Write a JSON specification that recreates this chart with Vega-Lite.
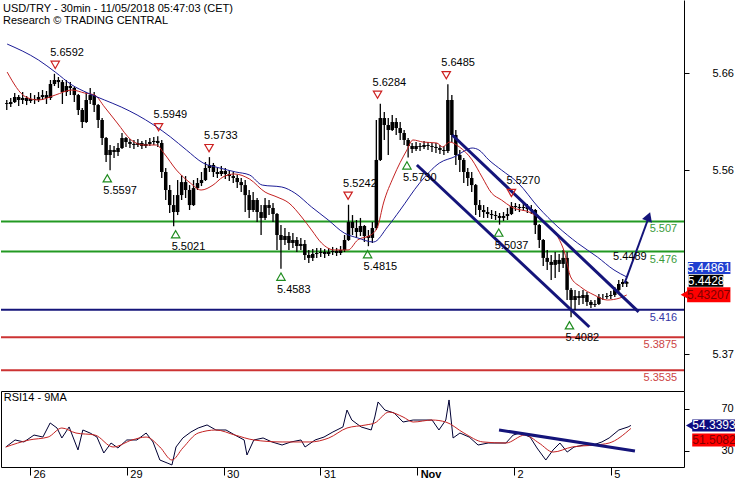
{
"$schema": "https://vega.github.io/schema/vega-lite/v6.json",
"padding": 0,
"spacing": 0,
"bounds": "flush",
"background": "white",
"config": {"view": {"stroke": null}, "font": "Liberation Sans", "text": {"font": "Liberation Sans"}},
"title": {"text": ["USD/TRY - 30min - 11/05/2018 05:47:03 (CET)", "Research © TRADING CENTRAL"], "anchor": "start", "orient": "top", "offset": -26, "dx": 3, "fontSize": 11, "fontWeight": "normal", "font": "Liberation Sans", "lineHeight": 12, "color": "#000"},
"datasets": {
"bars": [
{"h":-7,"o":5.629,"hi":5.6322,"l":5.6219,"c":5.6281},
{"h":-6,"o":5.6281,"hi":5.6343,"l":5.625,"c":5.6301},
{"h":-5,"o":5.6301,"hi":5.6394,"l":5.6291,"c":5.6353},
{"h":-4,"o":5.6353,"hi":5.6373,"l":5.626,"c":5.6322},
{"h":-3,"o":5.6322,"hi":5.6404,"l":5.6281,"c":5.6343},
{"h":-2,"o":5.6343,"hi":5.6363,"l":5.627,"c":5.6312},
{"h":-1,"o":5.6312,"hi":5.6394,"l":5.6291,"c":5.6332},
{"h":0,"o":5.6332,"hi":5.6373,"l":5.6281,"c":5.6322},
{"h":1,"o":5.6322,"hi":5.6404,"l":5.6301,"c":5.6353},
{"h":2,"o":5.6353,"hi":5.6425,"l":5.6322,"c":5.6373},
{"h":3,"o":5.6373,"hi":5.6415,"l":5.6281,"c":5.6343},
{"h":4,"o":5.6343,"hi":5.6528,"l":5.6322,"c":5.6487},
{"h":5,"o":5.6487,"hi":5.6592,"l":5.6466,"c":5.6528},
{"h":6,"o":5.6528,"hi":5.6559,"l":5.6446,"c":5.6507},
{"h":7,"o":5.6507,"hi":5.6528,"l":5.6281,"c":5.6404},
{"h":8,"o":5.6404,"hi":5.6528,"l":5.6363,"c":5.6466},
{"h":9,"o":5.6466,"hi":5.6507,"l":5.6373,"c":5.6446},
{"h":10,"o":5.6446,"hi":5.6456,"l":5.6301,"c":5.6373},
{"h":11,"o":5.6373,"hi":5.6383,"l":5.6168,"c":5.6219},
{"h":12,"o":5.6219,"hi":5.624,"l":5.6033,"c":5.6095},
{"h":13,"o":5.6095,"hi":5.6404,"l":5.6085,"c":5.6322},
{"h":14,"o":5.6322,"hi":5.6446,"l":5.6281,"c":5.6373},
{"h":15,"o":5.6373,"hi":5.6404,"l":5.6198,"c":5.627},
{"h":16,"o":5.627,"hi":5.628,"l":5.6033,"c":5.6116},
{"h":17,"o":5.6116,"hi":5.6136,"l":5.5858,"c":5.593},
{"h":18,"o":5.593,"hi":5.594,"l":5.5683,"c":5.5755},
{"h":19,"o":5.5755,"hi":5.5858,"l":5.5597,"c":5.5807},
{"h":20,"o":5.5807,"hi":5.5848,"l":5.5724,"c":5.5786},
{"h":21,"o":5.5786,"hi":5.5879,"l":5.5745,"c":5.5827},
{"h":22,"o":5.5827,"hi":5.5982,"l":5.5817,"c":5.593},
{"h":23,"o":5.593,"hi":5.5941,"l":5.5838,"c":5.5889},
{"h":24,"o":5.5889,"hi":5.592,"l":5.5827,"c":5.5869},
{"h":25,"o":5.5869,"hi":5.591,"l":5.5817,"c":5.5858},
{"h":26,"o":5.5858,"hi":5.592,"l":5.5838,"c":5.5879},
{"h":27,"o":5.5879,"hi":5.59,"l":5.5817,"c":5.5848},
{"h":28,"o":5.5848,"hi":5.591,"l":5.5827,"c":5.5869},
{"h":29,"o":5.5869,"hi":5.593,"l":5.5848,"c":5.5889},
{"h":30,"o":5.5889,"hi":5.5941,"l":5.5858,"c":5.59},
{"h":31,"o":5.59,"hi":5.5949,"l":5.5838,"c":5.5879},
{"h":32,"o":5.5879,"hi":5.591,"l":5.5518,"c":5.558},
{"h":33,"o":5.558,"hi":5.5621,"l":5.5291,"c":5.5394},
{"h":34,"o":5.5394,"hi":5.5445,"l":5.5157,"c":5.5239},
{"h":35,"o":5.5239,"hi":5.5342,"l":5.5021,"c":5.5167},
{"h":36,"o":5.5167,"hi":5.5497,"l":5.5136,"c":5.5342},
{"h":37,"o":5.5342,"hi":5.5548,"l":5.5291,"c":5.5476},
{"h":38,"o":5.5476,"hi":5.5538,"l":5.5312,"c":5.5394},
{"h":39,"o":5.5394,"hi":5.5445,"l":5.5188,"c":5.5239},
{"h":40,"o":5.5239,"hi":5.5497,"l":5.5229,"c":5.5414},
{"h":41,"o":5.5414,"hi":5.5518,"l":5.5394,"c":5.5466},
{"h":42,"o":5.5466,"hi":5.558,"l":5.5435,"c":5.5497},
{"h":43,"o":5.5497,"hi":5.5683,"l":5.5487,"c":5.5621},
{"h":44,"o":5.5621,"hi":5.5733,"l":5.558,"c":5.5652},
{"h":45,"o":5.5652,"hi":5.5673,"l":5.5528,"c":5.558},
{"h":46,"o":5.558,"hi":5.5621,"l":5.5518,"c":5.5559},
{"h":47,"o":5.5559,"hi":5.5642,"l":5.5538,"c":5.559},
{"h":48,"o":5.559,"hi":5.5621,"l":5.5507,"c":5.5559},
{"h":49,"o":5.5559,"hi":5.56,"l":5.5487,"c":5.5538},
{"h":50,"o":5.5538,"hi":5.558,"l":5.5466,"c":5.5518},
{"h":51,"o":5.5518,"hi":5.5548,"l":5.5414,"c":5.5476},
{"h":52,"o":5.5476,"hi":5.5518,"l":5.5373,"c":5.5445},
{"h":53,"o":5.5445,"hi":5.5497,"l":5.5167,"c":5.5342},
{"h":54,"o":5.5342,"hi":5.5394,"l":5.5106,"c":5.5188},
{"h":55,"o":5.5188,"hi":5.5373,"l":5.5167,"c":5.5291},
{"h":56,"o":5.5291,"hi":5.5312,"l":5.5064,"c":5.5167},
{"h":57,"o":5.5167,"hi":5.5239,"l":5.493,"c":5.5106},
{"h":58,"o":5.5106,"hi":5.5312,"l":5.5085,"c":5.5239},
{"h":59,"o":5.5239,"hi":5.5291,"l":5.5136,"c":5.5209},
{"h":60,"o":5.5209,"hi":5.526,"l":5.5064,"c":5.5147},
{"h":61,"o":5.5147,"hi":5.5157,"l":5.4776,"c":5.493},
{"h":62,"o":5.493,"hi":5.5033,"l":5.4583,"c":5.4879},
{"h":63,"o":5.4879,"hi":5.5002,"l":5.4827,"c":5.492},
{"h":64,"o":5.492,"hi":5.4961,"l":5.4776,"c":5.4848},
{"h":65,"o":5.4848,"hi":5.4951,"l":5.4797,"c":5.4879},
{"h":66,"o":5.4879,"hi":5.491,"l":5.4755,"c":5.4817},
{"h":67,"o":5.4817,"hi":5.49,"l":5.4776,"c":5.4838},
{"h":68,"o":5.4838,"hi":5.4879,"l":5.4673,"c":5.4724},
{"h":69,"o":5.4724,"hi":5.4776,"l":5.4642,"c":5.4694},
{"h":70,"o":5.4694,"hi":5.4786,"l":5.4663,"c":5.4735},
{"h":71,"o":5.4735,"hi":5.4797,"l":5.4694,"c":5.4745},
{"h":72,"o":5.4745,"hi":5.4797,"l":5.4704,"c":5.4755},
{"h":73,"o":5.4755,"hi":5.4786,"l":5.4694,"c":5.4735},
{"h":74,"o":5.4735,"hi":5.4797,"l":5.4714,"c":5.4755},
{"h":75,"o":5.4755,"hi":5.4807,"l":5.4724,"c":5.4766},
{"h":76,"o":5.4766,"hi":5.4797,"l":5.4714,"c":5.4745},
{"h":77,"o":5.4745,"hi":5.4817,"l":5.4724,"c":5.4776},
{"h":78,"o":5.4776,"hi":5.493,"l":5.4755,"c":5.4879},
{"h":79,"o":5.4879,"hi":5.5242,"l":5.4869,"c":5.5064},
{"h":80,"o":5.5064,"hi":5.5136,"l":5.493,"c":5.5002},
{"h":81,"o":5.5002,"hi":5.5085,"l":5.49,"c":5.4961},
{"h":82,"o":5.4961,"hi":5.5106,"l":5.492,"c":5.5023},
{"h":83,"o":5.5023,"hi":5.5033,"l":5.4858,"c":5.492},
{"h":84,"o":5.492,"hi":5.4982,"l":5.4815,"c":5.49},
{"h":85,"o":5.49,"hi":5.5064,"l":5.4848,"c":5.5002},
{"h":86,"o":5.5002,"hi":5.6116,"l":5.4982,"c":5.5704},
{"h":87,"o":5.5704,"hi":5.6284,"l":5.5694,"c":5.6136},
{"h":88,"o":5.6136,"hi":5.6198,"l":5.591,"c":5.6064},
{"h":89,"o":5.6064,"hi":5.6136,"l":5.5755,"c":5.6013},
{"h":90,"o":5.6013,"hi":5.6168,"l":5.6002,"c":5.6095},
{"h":91,"o":5.6095,"hi":5.6136,"l":5.5961,"c":5.6033},
{"h":92,"o":5.6033,"hi":5.6095,"l":5.591,"c":5.5982},
{"h":93,"o":5.5982,"hi":5.6013,"l":5.5858,"c":5.591},
{"h":94,"o":5.591,"hi":5.593,"l":5.573,"c":5.5848},
{"h":95,"o":5.5848,"hi":5.5879,"l":5.5776,"c":5.5817},
{"h":96,"o":5.5817,"hi":5.5889,"l":5.5796,"c":5.5848},
{"h":97,"o":5.5848,"hi":5.5879,"l":5.5796,"c":5.5838},
{"h":98,"o":5.5838,"hi":5.59,"l":5.5817,"c":5.5858},
{"h":99,"o":5.5858,"hi":5.5889,"l":5.5807,"c":5.5848},
{"h":100,"o":5.5848,"hi":5.5879,"l":5.5786,"c":5.5838},
{"h":101,"o":5.5838,"hi":5.5879,"l":5.5776,"c":5.5827},
{"h":102,"o":5.5827,"hi":5.5858,"l":5.5766,"c":5.5807},
{"h":103,"o":5.5807,"hi":5.5848,"l":5.5755,"c":5.5796},
{"h":104,"o":5.5796,"hi":5.6485,"l":5.5776,"c":5.6322},
{"h":105,"o":5.6322,"hi":5.6373,"l":5.5889,"c":5.5961},
{"h":106,"o":5.5961,"hi":5.6013,"l":5.5652,"c":5.5755},
{"h":107,"o":5.5755,"hi":5.5807,"l":5.558,"c":5.5704},
{"h":108,"o":5.5704,"hi":5.5724,"l":5.5466,"c":5.558},
{"h":109,"o":5.558,"hi":5.5621,"l":5.5435,"c":5.5518},
{"h":110,"o":5.5518,"hi":5.558,"l":5.5373,"c":5.5445},
{"h":111,"o":5.5445,"hi":5.5455,"l":5.5136,"c":5.5239},
{"h":112,"o":5.5239,"hi":5.5291,"l":5.5116,"c":5.5188},
{"h":113,"o":5.5188,"hi":5.5239,"l":5.5106,"c":5.5167},
{"h":114,"o":5.5167,"hi":5.5219,"l":5.5106,"c":5.5147},
{"h":115,"o":5.5147,"hi":5.5188,"l":5.5095,"c":5.5136},
{"h":116,"o":5.5136,"hi":5.5178,"l":5.5085,"c":5.5126},
{"h":117,"o":5.5126,"hi":5.5157,"l":5.5037,"c":5.5106},
{"h":118,"o":5.5106,"hi":5.5167,"l":5.5075,"c":5.5126},
{"h":119,"o":5.5126,"hi":5.5209,"l":5.5085,"c":5.5147},
{"h":120,"o":5.5147,"hi":5.527,"l":5.5136,"c":5.5229},
{"h":121,"o":5.5229,"hi":5.526,"l":5.5178,"c":5.5219},
{"h":122,"o":5.5219,"hi":5.525,"l":5.5167,"c":5.5209},
{"h":123,"o":5.5209,"hi":5.526,"l":5.5178,"c":5.5219},
{"h":124,"o":5.5219,"hi":5.525,"l":5.5157,"c":5.5198},
{"h":125,"o":5.5198,"hi":5.5239,"l":5.5147,"c":5.5188},
{"h":126,"o":5.5188,"hi":5.5198,"l":5.4941,"c":5.5033},
{"h":127,"o":5.5033,"hi":5.5043,"l":5.4797,"c":5.4879},
{"h":128,"o":5.4879,"hi":5.4889,"l":5.4611,"c":5.4694},
{"h":129,"o":5.4694,"hi":5.4776,"l":5.457,"c":5.4653},
{"h":130,"o":5.4653,"hi":5.4724,"l":5.4467,"c":5.4622},
{"h":131,"o":5.4622,"hi":5.4755,"l":5.4487,"c":5.4673},
{"h":132,"o":5.4673,"hi":5.4735,"l":5.455,"c":5.4632},
{"h":133,"o":5.4632,"hi":5.4776,"l":5.4591,"c":5.4694},
{"h":134,"o":5.4694,"hi":5.4755,"l":5.426,"c":5.4364},
{"h":135,"o":5.4364,"hi":5.4384,"l":5.4082,"c":5.426},
{"h":136,"o":5.426,"hi":5.4364,"l":5.4157,"c":5.4301},
{"h":137,"o":5.4301,"hi":5.4353,"l":5.4209,"c":5.4281},
{"h":138,"o":5.4281,"hi":5.4364,"l":5.4219,"c":5.4312},
{"h":139,"o":5.4312,"hi":5.4343,"l":5.4198,"c":5.424},
{"h":140,"o":5.424,"hi":5.426,"l":5.4178,"c":5.4209},
{"h":141,"o":5.4209,"hi":5.426,"l":5.4188,"c":5.4219},
{"h":142,"o":5.4219,"hi":5.4322,"l":5.4209,"c":5.4291},
{"h":143,"o":5.4291,"hi":5.4322,"l":5.426,"c":5.4291},
{"h":144,"o":5.4291,"hi":5.4332,"l":5.427,"c":5.4301},
{"h":145,"o":5.4301,"hi":5.4353,"l":5.427,"c":5.4312},
{"h":146,"o":5.4312,"hi":5.4395,"l":5.4291,"c":5.4364},
{"h":147,"o":5.4364,"hi":5.4467,"l":5.4343,"c":5.4425},
{"h":148,"o":5.4425,"hi":5.4477,"l":5.4395,"c":5.4446},
{"h":149,"o":5.4446,"hi":5.4456,"l":5.4395,"c":5.4428}
],
"maRed": [
{"h":-6.9,"v":5.661},{"h":-2.2,"v":5.6353},{"h":1.0,"v":5.6322},{"h":5.2,"v":5.6373},{"h":9.4,"v":5.6425},{"h":12.6,"v":5.6394},{"h":15.1,"v":5.6373},{"h":17.6,"v":5.625},{"h":20.8,"v":5.6085},{"h":24.3,"v":5.591},{"h":27.5,"v":5.5858},{"h":30.7,"v":5.5858},{"h":32.5,"v":5.5776},{"h":35.7,"v":5.56},{"h":39.2,"v":5.5466},{"h":41.9,"v":5.5394},{"h":44.9,"v":5.5445},{"h":47.4,"v":5.5528},{"h":50.3,"v":5.5559},{"h":54.1,"v":5.5507},{"h":58.0,"v":5.5373},{"h":61.0,"v":5.5322},{"h":64.0,"v":5.526},{"h":67.2,"v":5.5116},{"h":69.7,"v":5.4982},{"h":72.2,"v":5.4848},{"h":75.4,"v":5.4776},{"h":78.9,"v":5.4776},{"h":81.3,"v":5.4879},{"h":84.6,"v":5.493},{"h":86.3,"v":5.5013},{"h":87.8,"v":5.526},{"h":90.3,"v":5.5528},{"h":93.7,"v":5.5807},{"h":95.2,"v":5.591},{"h":97.7,"v":5.5889},{"h":101.2,"v":5.5879},{"h":102.7,"v":5.5838},{"h":104.4,"v":5.5889},{"h":106.9,"v":5.5838},{"h":110.1,"v":5.5704},{"h":112.6,"v":5.5528},{"h":115.0,"v":5.5363},{"h":117.5,"v":5.5291},{"h":120.0,"v":5.5219},{"h":125.0,"v":5.5157},{"h":128.4,"v":5.5054},{"h":131.7,"v":5.491},{"h":133.4,"v":5.4745},{"h":134.9,"v":5.4498},{"h":137.4,"v":5.4395},{"h":140.8,"v":5.4312},{"h":144.1,"v":5.426},{"h":147.3,"v":5.4281},{"h":149.0,"v":5.4312}
],
"maBlue": [
{"h":-6.9,"v":5.6899},{"h":1.0,"v":5.6734},{"h":5.2,"v":5.661},{"h":9.4,"v":5.6477},{"h":13.4,"v":5.6394},{"h":17.6,"v":5.6322},{"h":21.8,"v":5.625},{"h":25.8,"v":5.6168},{"h":30.0,"v":5.6064},{"h":34.2,"v":5.5941},{"h":38.2,"v":5.5807},{"h":42.4,"v":5.5673},{"h":46.6,"v":5.5621},{"h":50.6,"v":5.558},{"h":54.1,"v":5.5549},{"h":57.3,"v":5.5445},{"h":62.2,"v":5.5425},{"h":65.5,"v":5.5363},{"h":69.7,"v":5.5219},{"h":73.9,"v":5.5085},{"h":77.9,"v":5.4951},{"h":81.3,"v":5.49},{"h":85.3,"v":5.4858},{"h":88.8,"v":5.5013},{"h":92.0,"v":5.5188},{"h":96.9,"v":5.5466},{"h":101.9,"v":5.5673},{"h":106.1,"v":5.5745},{"h":108.1,"v":5.5796},{"h":110.1,"v":5.5827},{"h":111.8,"v":5.5807},{"h":114.3,"v":5.5704},{"h":117.5,"v":5.56},{"h":121.7,"v":5.5466},{"h":126.7,"v":5.5219},{"h":131.7,"v":5.5013},{"h":136.6,"v":5.4848},{"h":141.6,"v":5.4704},{"h":145.8,"v":5.457},{"h":149.0,"v":5.4498}
],
"highs": [
{"h":5.2,"v":5.6592,"t":"5.6592"},{"h":31.2,"v":5.5949,"t":"5.5949"},{"h":43.9,"v":5.5733,"t":"5.5733"},{"h":78.9,"v":5.5242,"t":"5.5242"},{"h":86.3,"v":5.6284,"t":"5.6284"},{"h":103.6,"v":5.6485,"t":"5.6485"},{"h":120.0,"v":5.527,"t":"5.5270"}
],
"lows": [
{"h":18.3,"v":5.5597,"t":"5.5597"},{"h":35.5,"v":5.5021,"t":"5.5021"},{"h":62.0,"v":5.4583,"t":"5.4583"},{"h":83.8,"v":5.4815,"t":"5.4815"},{"h":93.7,"v":5.573,"t":"5.5730"},{"h":116.8,"v":5.5037,"t":"5.5037"},{"h":134.6,"v":5.4082,"t":"5.4082"}
],
"channel": [
{"line":"upper","h":105.1,"v":5.5961},{"line":"upper","h":152.0,"v":5.4137},
{"line":"lower","h":96.2,"v":5.5652},{"line":"lower","h":139.6,"v":5.3982}
],
"arrow": [{"h":148.5,"v":5.4436},{"h":154.3,"v":5.5085}],
"rsi": [
{"h":-6.0,"v":33.8},{"h":-3.7,"v":40.5},{"h":-1.5,"v":38.6},{"h":1.0,"v":45.2},{"h":3.2,"v":43.3},{"h":5.0,"v":56.7},{"h":6.7,"v":51.9},{"h":7.9,"v":42.4},{"h":9.7,"v":52.9},{"h":11.9,"v":31.0},{"h":13.1,"v":50.0},{"h":14.9,"v":47.1},{"h":16.6,"v":43.3},{"h":18.3,"v":28.1},{"h":20.1,"v":37.6},{"h":21.8,"v":32.9},{"h":24.0,"v":40.5},{"h":26.5,"v":40.5},{"h":28.8,"v":47.1},{"h":30.5,"v":38.6},{"h":32.2,"v":21.4},{"h":34.0,"v":18.6},{"h":35.2,"v":16.7},{"h":36.2,"v":33.8},{"h":37.9,"v":42.4},{"h":39.9,"v":48.1},{"h":41.7,"v":51.9},{"h":43.9,"v":54.8},{"h":46.1,"v":50.0},{"h":48.6,"v":50.0},{"h":50.8,"v":45.2},{"h":53.1,"v":40.5},{"h":53.8,"v":26.2},{"h":55.5,"v":40.5},{"h":57.8,"v":42.4},{"h":60.0,"v":38.6},{"h":62.5,"v":35.7},{"h":64.7,"v":38.6},{"h":67.2,"v":40.5},{"h":68.2,"v":33.8},{"h":70.7,"v":40.5},{"h":72.9,"v":43.3},{"h":75.1,"v":48.1},{"h":77.6,"v":52.9},{"h":78.6,"v":69.0},{"h":79.8,"v":59.5},{"h":82.1,"v":52.9},{"h":84.6,"v":50.0},{"h":85.5,"v":62.4},{"h":86.3,"v":76.7},{"h":88.0,"v":69.0},{"h":90.3,"v":66.2},{"h":92.5,"v":57.6},{"h":95.0,"v":59.5},{"h":97.2,"v":59.5},{"h":99.7,"v":59.5},{"h":101.4,"v":50.0},{"h":103.1,"v":59.5},{"h":103.9,"v":78.6},{"h":104.9,"v":42.4},{"h":106.6,"v":47.1},{"h":108.9,"v":43.3},{"h":111.1,"v":35.7},{"h":113.6,"v":37.6},{"h":115.8,"v":37.6},{"h":118.0,"v":37.6},{"h":119.8,"v":45.2},{"h":121.5,"v":47.1},{"h":124.0,"v":43.3},{"h":125.7,"v":32.9},{"h":127.9,"v":21.4},{"h":129.7,"v":31.0},{"h":131.4,"v":37.6},{"h":133.2,"v":29.0},{"h":134.9,"v":33.8},{"h":137.4,"v":35.7},{"h":139.6,"v":35.7},{"h":141.8,"v":38.6},{"h":143.6,"v":42.4},{"h":146.0,"v":50.0},{"h":148.3,"v":52.9},{"h":149.0,"v":54.34}
],
"rsiMa": [
{"h":-6.0,"v":33.8},{"h":-0.2,"v":40.5},{"h":4.5,"v":43.3},{"h":7.9,"v":51.9},{"h":11.4,"v":47.1},{"h":16.1,"v":45.2},{"h":20.6,"v":33.8},{"h":25.3,"v":40.5},{"h":28.8,"v":43.3},{"h":32.2,"v":33.8},{"h":35.2,"v":21.4},{"h":37.9,"v":32.9},{"h":41.7,"v":47.1},{"h":46.1,"v":50.0},{"h":50.8,"v":45.2},{"h":55.5,"v":40.5},{"h":62.5,"v":38.6},{"h":69.4,"v":38.6},{"h":74.1,"v":42.4},{"h":78.6,"v":51.9},{"h":83.3,"v":54.8},{"h":85.5,"v":56.7},{"h":89.0,"v":67.1},{"h":92.5,"v":62.4},{"h":95.0,"v":57.6},{"h":99.7,"v":59.5},{"h":103.1,"v":57.6},{"h":107.6,"v":47.1},{"h":112.3,"v":38.6},{"h":118.0,"v":37.6},{"h":122.7,"v":45.2},{"h":126.2,"v":37.6},{"h":129.7,"v":29.0},{"h":134.4,"v":33.8},{"h":140.1,"v":35.7},{"h":143.6,"v":37.6},{"h":149.0,"v":51.51}
],
"rsiTrend": [{"h":116.3,"v":50.0},{"h":150.0,"v":30.0}]
},
"vconcat": [
{
"width": 683,
"height": 391,
"layer": [
{"data": {"values": [{"v":5.507},{"v":5.476}]}, "mark": {"type":"rule","color":"#229922","strokeWidth":2},
 "encoding": {"y": {"field":"v","type":"quantitative","scale":{"domain":[5.3322,5.7353],"nice":false,"zero":false},
  "axis":{"orient":"right","values":[5.37,5.56,5.66],"format":".2f","title":null,"grid":false,"tickSize":5,"labelAlign":"left","labelPadding":23,"labelFontSize":11,"labelColor":"#000","tickColor":"#000","domain":true,"domainColor":"#000","labelFont":"Liberation Sans"}}}},
{"data": {"values": [{"v":5.416}]}, "mark": {"type":"rule","color":"#14147a","strokeWidth":2},
 "encoding": {"y": {"field":"v","type":"quantitative"}}},
{"data": {"values": [{"v":5.3875},{"v":5.3535}]}, "mark": {"type":"rule","color":"#cc3333","strokeWidth":2},
 "encoding": {"y": {"field":"v","type":"quantitative"}}},
{"data": {"values": [{"v":5.507,"t":"5.507"},{"v":5.476,"t":"5.476"}]}, "mark": {"type":"text","align":"right","baseline":"middle","dy":8,"fontSize":11,"color":"#3a9a3a"},
 "encoding": {"x": {"datum":161.7,"type":"quantitative","scale":{"domain":[-7.19,162.16],"nice":false,"zero":false},"axis":null}, "y": {"field":"v","type":"quantitative"}, "text": {"field":"t"}}},
{"data": {"values": [{"v":5.416,"t":"5.416"}]}, "mark": {"type":"text","align":"right","baseline":"middle","dy":8,"fontSize":11,"color":"#3434a4"},
 "encoding": {"x": {"datum":161.7,"type":"quantitative","axis":null}, "y": {"field":"v","type":"quantitative"}, "text": {"field":"t"}}},
{"data": {"values": [{"v":5.3875,"t":"5.3875"},{"v":5.3535,"t":"5.3535"}]}, "mark": {"type":"text","align":"right","baseline":"middle","dy":8,"fontSize":11,"color":"#cc4444"},
 "encoding": {"x": {"datum":161.7,"type":"quantitative","axis":null}, "y": {"field":"v","type":"quantitative"}, "text": {"field":"t"}}},
{"data": {"name":"bars"}, "mark": {"type":"rule","color":"#000","strokeWidth":1.3},
 "encoding": {"x": {"field":"h","type":"quantitative","axis":null}, "y": {"field":"l","type":"quantitative"}, "y2": {"field":"hi"}}},
{"data": {"name":"bars"}, "mark": {"type":"bar","color":"#000","size":3.5},
 "encoding": {"x": {"field":"h","type":"quantitative","axis":null}, "y": {"field":"o","type":"quantitative"}, "y2": {"field":"c"}}},
{"data": {"name":"maRed"}, "mark": {"type":"line","color":"#c42222","strokeWidth":1,"interpolate":"monotone"},
 "encoding": {"x": {"field":"h","type":"quantitative","axis":null}, "y": {"field":"v","type":"quantitative"}}},
{"data": {"name":"maBlue"}, "mark": {"type":"line","color":"#1c1c96","strokeWidth":1,"interpolate":"monotone"},
 "encoding": {"x": {"field":"h","type":"quantitative","axis":null}, "y": {"field":"v","type":"quantitative"}}},
{"data": {"name":"channel"}, "mark": {"type":"line","color":"#14147a","strokeWidth":3},
 "encoding": {"x": {"field":"h","type":"quantitative","axis":null}, "y": {"field":"v","type":"quantitative"}, "detail": {"field":"line"}}},
{"data": {"name":"arrow"}, "mark": {"type":"line","color":"#14147a","strokeWidth":2},
 "encoding": {"x": {"field":"h","type":"quantitative","axis":null}, "y": {"field":"v","type":"quantitative"}}},
{"data": {"values": [{"h":154.5,"v":5.512}]}, "mark": {"type":"point","shape":"triangle-up","filled":true,"color":"#14147a","size":110,"angle":20,"opacity":1},
 "encoding": {"x": {"field":"h","type":"quantitative","axis":null}, "y": {"field":"v","type":"quantitative"}}},
{"data": {"values": [{"h":149.8,"v":5.4704,"t":"5.4489"}]}, "mark": {"type":"text","align":"center","baseline":"middle","fontSize":11,"color":"#000"},
 "encoding": {"x": {"field":"h","type":"quantitative","axis":null}, "y": {"field":"v","type":"quantitative"}, "text": {"field":"t"}}},
{"data": {"name":"highs"}, "mark": {"type":"point","shape":"triangle-down","filled":false,"color":"#cc2020","strokeWidth":1.2,"size":70,"yOffset":-9,"opacity":1},
 "encoding": {"x": {"field":"h","type":"quantitative","axis":null}, "y": {"field":"v","type":"quantitative"}}},
{"data": {"name":"highs"}, "mark": {"type":"text","align":"left","baseline":"middle","dx":-5,"dy":-21,"fontSize":11,"color":"#000"},
 "encoding": {"x": {"field":"h","type":"quantitative","axis":null}, "y": {"field":"v","type":"quantitative"}, "text": {"field":"t"}}},
{"data": {"name":"lows"}, "mark": {"type":"point","shape":"triangle-up","filled":false,"color":"#1e8c1e","strokeWidth":1.2,"size":70,"yOffset":8,"opacity":1},
 "encoding": {"x": {"field":"h","type":"quantitative","axis":null}, "y": {"field":"v","type":"quantitative"}}},
{"data": {"name":"lows"}, "mark": {"type":"text","align":"left","baseline":"middle","dx":-4,"dy":21,"fontSize":11,"color":"#000"},
 "encoding": {"x": {"field":"h","type":"quantitative","axis":null}, "y": {"field":"v","type":"quantitative"}, "text": {"field":"t"}}},
{"data": {"values": [{"v":5.44861,"t":"5.44861"}]}, "mark": {"type":"rect","color":"#1f3fd0","yOffset":-16,"y2Offset":-4},
 "encoding": {"x": {"datum":164.4,"type":"quantitative","axis":null}, "x2": {"datum":175.1}, "y": {"field":"v","type":"quantitative"}, "y2": {"field":"v"}}},
{"data": {"values": [{"v":5.44861,"t":"5.44861"}]}, "mark": {"type":"text","align":"center","baseline":"middle","dy":-10,"fontSize":12,"color":"#fff"},
 "encoding": {"x": {"datum":169.7,"type":"quantitative","axis":null}, "y": {"field":"v","type":"quantitative"}, "text": {"field":"t"}}},
{"data": {"values": [{"v":5.4428,"t":"5.4428"}]}, "mark": {"type":"rect","color":"#000","yOffset":-9,"y2Offset":3},
 "encoding": {"x": {"datum":164.6,"type":"quantitative","axis":null}, "x2": {"datum":173.3}, "y": {"field":"v","type":"quantitative"}, "y2": {"field":"v"}}},
{"data": {"values": [{"v":5.4428,"t":"5.4428"}]}, "mark": {"type":"text","align":"center","baseline":"middle","dy":-3,"fontSize":12,"color":"#fff"},
 "encoding": {"x": {"datum":169.0,"type":"quantitative","axis":null}, "y": {"field":"v","type":"quantitative"}, "text": {"field":"t"}}},
{"data": {"values": [{"v":5.43207,"t":"5.43207"}]}, "mark": {"type":"rect","color":"#ff0000","yOffset":-7,"y2Offset":8},
 "encoding": {"x": {"datum":164.2,"type":"quantitative","axis":null}, "x2": {"datum":175.1}, "y": {"field":"v","type":"quantitative"}, "y2": {"field":"v"}}},
{"data": {"values": [{"v":5.43207}]}, "mark": {"type":"point","shape":"triangle-left","filled":true,"color":"#ff0000","size":90,"yOffset":0.5,"opacity":1},
 "encoding": {"x": {"datum":163.6,"type":"quantitative","axis":null}, "y": {"field":"v","type":"quantitative"}}},
{"data": {"values": [{"v":5.43207,"t":"5.43207"}]}, "mark": {"type":"text","align":"center","baseline":"middle","dy":0.5,"fontSize":12,"color":"#800000"},
 "encoding": {"x": {"datum":169.6,"type":"quantitative","axis":null}, "y": {"field":"v","type":"quantitative"}, "text": {"field":"t"}}}
]
},
{
"width": 683,
"height": 76,
"view": {"stroke": "#000", "strokeWidth": 1},
"layer": [
{"data": {"name":"rsi"}, "mark": {"type":"line","color":"#000033","strokeWidth":1},
 "encoding": {
  "x": {"field":"h","type":"quantitative","scale":{"domain":[-7.19,162.16],"nice":false,"zero":false},
   "axis":{"orient":"bottom","values":[0,24,48,72,96,120,144],"labelExpr":"['26','29','30','31','Nov','2','5'][datum.value/24]","title":null,"grid":false,"domain":false,"tickSize":8,"tickColor":"#000","labelAlign":"left","labelOffset":3,"labelPadding":-7,"labelBaseline":"top","labelFontSize":11,"labelColor":"#000","labelFont":"Liberation Sans","labelFontWeight":{"condition":{"test":"datum.value === 96","value":"bold"},"value":"normal"}}},
  "y": {"field":"v","type":"quantitative","scale":{"domain":[14.76,87.14],"nice":false,"zero":false},
   "axis":{"orient":"right","values":[30,70],"title":null,"grid":false,"tickSize":5,"labelAlign":"left","labelPadding":32,"labelFontSize":11,"labelColor":"#000","tickColor":"#000","domain":false,"labelFont":"Liberation Sans"}}}},
{"data": {"name":"rsiMa"}, "mark": {"type":"line","color":"#c42222","strokeWidth":1,"interpolate":"monotone"},
 "encoding": {"x": {"field":"h","type":"quantitative"}, "y": {"field":"v","type":"quantitative"}}},
{"data": {"name":"rsiTrend"}, "mark": {"type":"line","color":"#14147a","strokeWidth":3},
 "encoding": {"x": {"field":"h","type":"quantitative"}, "y": {"field":"v","type":"quantitative"}}},
{"data": {"values": [{"v":54.3393}]}, "mark": {"type":"rect","color":"#0c0c80","yOffset":-6,"y2Offset":6},
 "encoding": {"x": {"datum":164.2,"type":"quantitative"}, "x2": {"datum":175.1}, "y": {"field":"v","type":"quantitative"}, "y2": {"field":"v"}}},
{"data": {"values": [{"v":54.3393}]}, "mark": {"type":"point","shape":"triangle-left","filled":true,"color":"#0c0c80","size":80,"opacity":1},
 "encoding": {"x": {"datum":163.6,"type":"quantitative"}, "y": {"field":"v","type":"quantitative"}}},
{"data": {"values": [{"v":54.3393,"t":"54.3393"}]}, "mark": {"type":"text","align":"center","baseline":"middle","fontSize":12,"color":"#fff"},
 "encoding": {"x": {"datum":169.6,"type":"quantitative"}, "y": {"field":"v","type":"quantitative"}, "text": {"field":"t"}}},
{"data": {"values": [{"v":51.5082}]}, "mark": {"type":"rect","color":"#ff0000","yOffset":5,"y2Offset":18},
 "encoding": {"x": {"datum":164.2,"type":"quantitative"}, "x2": {"datum":175.1}, "y": {"field":"v","type":"quantitative"}, "y2": {"field":"v"}}},
{"data": {"values": [{"v":51.5082,"t":"51.5082"}]}, "mark": {"type":"text","align":"center","baseline":"middle","dy":11.5,"fontSize":12,"color":"#800000"},
 "encoding": {"x": {"datum":169.6,"type":"quantitative"}, "y": {"field":"v","type":"quantitative"}, "text": {"field":"t"}}},
{"data": {"values": [{"t":"RSI14 - 9MA"}]}, "mark": {"type":"text","align":"left","baseline":"middle","fontSize":11,"color":"#000"},
 "encoding": {"x": {"datum":-6.5,"type":"quantitative"}, "y": {"datum":80.5,"type":"quantitative"}, "text": {"field":"t"}}}
]
}
]
}
